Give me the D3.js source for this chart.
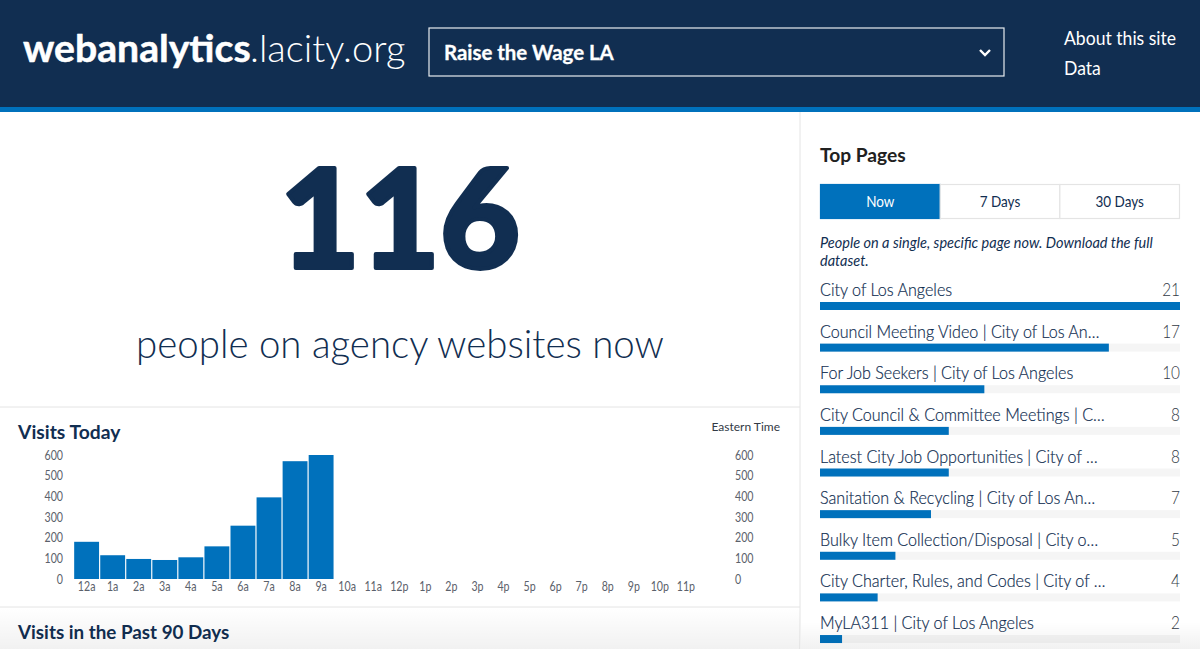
<!DOCTYPE html>
<html><head><meta charset="utf-8">
<script src="https://cdn.jsdelivr.net/npm/d3@7"></script>
<style>
html,body{margin:0;padding:0;background:#fff;overflow:hidden}
svg{display:block}
text{font-family:Lato,"Noto Sans",sans-serif}
</style></head><body>
<svg id="c" width="1200" height="649"></svg>
<script>
const hours = ["12a","1a","2a","3a","4a","5a","6a","7a","8a","9a","10a","11a","12p","1p","2p","3p","4p","5p","6p","7p","8p","9p","10p","11p"];
const visitsToday = [180,115,97,92,105,158,258,395,570,600];
const yTicks = [0,100,200,300,400,500,600];
const pageTitles = ["City of Los Angeles","Council Meeting Video | City of Los An…","For Job Seekers | City of Los Angeles","City Council & Committee Meetings | C…","Latest City Job Opportunities | City of …","Sanitation & Recycling | City of Los An…","Bulky Item Collection/Disposal | City o…","City Charter, Rules, and Codes | City of …","MyLA311 | City of Los Angeles"];
const pageCounts = [21,17,10,8,8,7,5,4,2];
const tabLabels = ["Now","7 Days","30 Days"];
const peopleNow = 116;

const NAVY="#112e51", BLUE="#0071bc", GREY="#5b616b", RULE="#e4e4e4";
const svg=d3.select("#c");
const defs=svg.append("defs");
const g=defs.append("linearGradient").attr("id","fade").attr("x1",0).attr("x2",0).attr("y1",0).attr("y2",1);
g.append("stop").attr("offset",0).attr("stop-color","#000").attr("stop-opacity",0);
g.append("stop").attr("offset",1).attr("stop-color","#000").attr("stop-opacity",0.055);

function squeeze(sel,k){sel.each(function(){const w=this.getComputedTextLength();d3.select(this).attr("textLength",w*k).attr("lengthAdjust","spacingAndGlyphs");});return sel;}
function label(x,y,t,o={}){
  const s=svg.append("text").attr("x",x).attr("y",y).text(t)
    .attr("font-size",o.size||14).attr("font-weight",o.weight||400).attr("fill",o.fill||NAVY)
    .attr("text-anchor",o.anchor||"start").attr("font-style",o.italic?"italic":"normal");
  if(o.stroke) s.attr("stroke",o.fill||NAVY).attr("stroke-width",o.stroke).attr("stroke-linejoin","round");
  return squeeze(s,o.k||1);
}

// header
svg.append("rect").attr("width",1200).attr("height",107).attr("fill",NAVY);
svg.append("rect").attr("y",107).attr("width",1200).attr("height",5).attr("fill",BLUE);
label(23,62,"webanalytics",{size:38,weight:700,fill:"#fff",k:1.03,stroke:0.5});
label(250,62,".lacity.org",{size:37,weight:300,fill:"#fff",k:1.03});
svg.append("rect").attr("x",429).attr("y",28).attr("width",575).attr("height",48).attr("fill","none").attr("stroke","#e8ebef").attr("stroke-width",1.2);
label(444,60,"Raise the Wage LA",{size:20.4,weight:700,fill:"#fff",stroke:0.3});
svg.append("path").attr("d",d3.line()([[980,50],[985,55],[990,50]])).attr("fill","none").attr("stroke","#fff").attr("stroke-width",2.4);
label(1064,45,"About this site",{size:19,fill:"#fff",k:0.925});
label(1064,75,"Data",{size:19,fill:"#fff",k:0.925});

// rules
svg.append("line").attr("x1",800).attr("x2",800).attr("y1",112).attr("y2",649).attr("stroke",RULE);
svg.append("line").attr("x1",0).attr("x2",800).attr("y1",407).attr("y2",407).attr("stroke",RULE);
svg.append("line").attr("x1",0).attr("x2",800).attr("y1",607).attr("y2",607).attr("stroke",RULE);

// headline
label(400,268,String(peopleNow),{size:138,weight:900,anchor:"middle",k:1,stroke:4});
label(400,357.5,"people on agency websites now",{size:39,weight:300,anchor:"middle",k:0.985});

// visits today
label(18,439,"Visits Today",{size:19.3,weight:700});
label(780,431,"Eastern Time",{size:12,anchor:"end",fill:"#323a45"});
label(18,639,"Visits in the Past 90 Days",{size:19,weight:700,k:0.99});

const x=d3.scaleBand().domain(hours).range([73,699.5]).padding(0.045);
const y=d3.scaleLinear().domain([0,600]).range([579,455]);
svg.append("g").selectAll("rect").data(visitsToday).join("rect")
  .attr("x",(d,i)=>x(hours[i])).attr("width",x.bandwidth())
  .attr("y",d=>y(d)).attr("height",d=>y(0)-y(d)).attr("fill",BLUE);

function styleAxis(a){
  a.select(".domain").remove();a.selectAll(".tick line").remove();
  a.selectAll("text").attr("fill",GREY).attr("font-size",12.5).attr("font-family","Lato");
  squeeze(a.selectAll("text"),0.85);
}
svg.append("g").attr("transform","translate(63,0)").call(d3.axisLeft(y).tickValues(yTicks).tickSize(0).tickPadding(0)).call(styleAxis);
svg.append("g").attr("transform","translate(735,0)").call(d3.axisRight(y).tickValues(yTicks).tickSize(0).tickPadding(0)).call(styleAxis);
svg.append("g").attr("transform","translate(0,580)").call(d3.axisBottom(x).tickSize(0).tickPadding(2)).call(styleAxis);

// top pages
label(820,162,"Top Pages",{size:19.2,weight:700,fill:"#212121"});
const tabs=d3.scaleBand().domain(tabLabels).range([820.5,1179.5]);
svg.append("g").selectAll("rect").data(tabLabels).join("rect")
  .attr("x",d=>tabs(d)).attr("y",184.5).attr("width",tabs.bandwidth()).attr("height",34)
  .attr("fill",(d,i)=>i?"#fff":BLUE).attr("stroke",(d,i)=>i?RULE:BLUE).attr("stroke-width",1.2);
tabLabels.forEach((t,i)=>label(tabs(t)+tabs.bandwidth()/2,207,t,{size:15,weight:400,anchor:"middle",k:0.9,fill:i?NAVY:"#fff"}));
label(820,248,"People on a single, specific page now. Download the full",{size:14.5,italic:true});
label(820,266,"dataset.",{size:14.5,italic:true});

const w=d3.scaleLinear().domain([0.76,21]).range([0,360]);
const row=d3.scaleBand().domain(d3.range(pageTitles.length)).range([302,302+41.63*pageTitles.length]);
pageTitles.forEach((t,i)=>{
  const r=row(i);
  svg.append("rect").attr("x",820).attr("y",r).attr("width",360).attr("height",8).attr("fill","#f5f5f5");
  svg.append("rect").attr("x",820).attr("y",r).attr("width",w(pageCounts[i])).attr("height",8).attr("fill",BLUE);
  label(820,r-6,t,{size:17.5,weight:300,k:0.92,stroke:0.2});
  label(1180,r-6,String(pageCounts[i]),{size:17.5,weight:300,anchor:"end",k:0.88,fill:"#323a45"});
});

// bottom fade
svg.append("rect").attr("y",608).attr("width",800).attr("height",41).attr("fill","url(#fade)");
svg.append("rect").attr("x",801).attr("y",622).attr("width",399).attr("height",27).attr("fill","url(#fade)");
</script>
</body></html>
